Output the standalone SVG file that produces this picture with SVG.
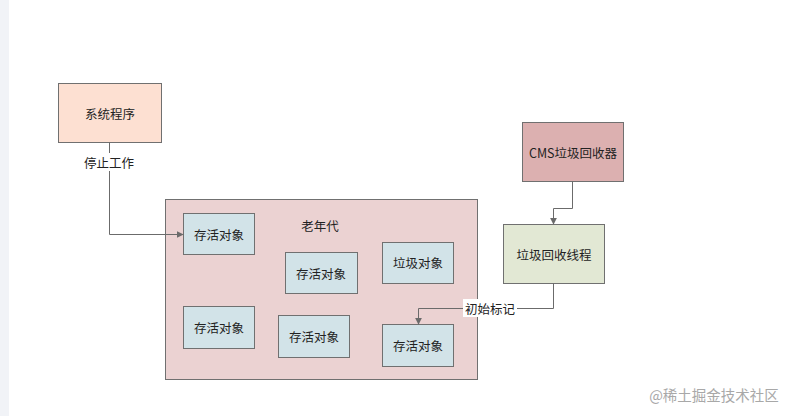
<svg xmlns="http://www.w3.org/2000/svg" width="792" height="416" viewBox="0 0 792 416">
<defs>
<marker id="arr" viewBox="0 0 10 10" refX="9" refY="5" markerWidth="7" markerHeight="7" markerUnits="userSpaceOnUse" orient="auto">
<path d="M0,0 L10,5 L0,10 z" fill="#6b6b6b"/>
</marker>
<style>
text{font-family:"Noto Sans CJK SC","Liberation Sans",sans-serif;font-size:12.5px;fill:#222;text-anchor:middle;dominant-baseline:central}
.box{stroke:#707070;stroke-width:1}
.obj{fill:#d2e3e8}
.line{fill:none;stroke:#6b6b6b;stroke-width:1}
.lbl{fill:#fff}
</style>
</defs>
<rect x="0" y="0" width="792" height="416" fill="#fff"/>
<rect x="0" y="0" width="9" height="416" fill="#f1f3f7"/>
<g id="sys"><rect class="box" x="58.5" y="83.5" width="103" height="59" fill="#fde0d2"/><text x="110" y="113">系统程序</text></g>
<g id="old"><rect class="box" x="165.5" y="199.5" width="312" height="180" fill="#ebd2d2"/><text x="320" y="225">老年代</text></g>
<g id="o1"><rect class="box obj" x="183.5" y="213.5" width="71" height="41"/><text x="219" y="234">存活对象</text></g>
<g id="o2"><rect class="box obj" x="285.5" y="252.5" width="72" height="41"/><text x="321" y="273">存活对象</text></g>
<g id="o3"><rect class="box obj" x="382.5" y="242.5" width="71" height="41"/><text x="418" y="262">垃圾对象</text></g>
<g id="o4"><rect class="box obj" x="183.5" y="306.5" width="71" height="42"/><text x="219" y="327">存活对象</text></g>
<g id="o5"><rect class="box obj" x="278.5" y="315.5" width="71" height="42"/><text x="314" y="336">存活对象</text></g>
<g id="o6"><rect class="box obj" x="382.5" y="324.5" width="71" height="42"/><text x="418" y="345">存活对象</text></g>
<g id="cms"><rect class="box" x="522.5" y="122.5" width="101" height="59" fill="#dcb0b0"/><text x="573" y="152">CMS垃圾回收器</text></g>
<g id="thr"><rect class="box" x="503.5" y="224.5" width="101" height="59" fill="#e2e8d4"/><text x="554" y="254">垃圾回收线程</text></g>
<g id="connectors">
<path class="line" d="M109.5,142 V234.5 H183" marker-end="url(#arr)"/>
<rect class="lbl" x="82" y="153" width="54" height="18"/>
<text x="109" y="162">停止工作</text>
<path class="line" d="M572.5,181 V208.5 H553.5 V224" marker-end="url(#arr)"/>
<path class="line" d="M553.5,283 V308.5 H418.5 V324" marker-end="url(#arr)"/>
<rect class="lbl" x="463" y="299" width="54" height="18"/>
<text x="490" y="308">初始标记</text>
</g>
<text x="714" y="394" style="font-size:14.5px;fill:#a8a8a8">@稀土掘金技术社区</text>
</svg>
